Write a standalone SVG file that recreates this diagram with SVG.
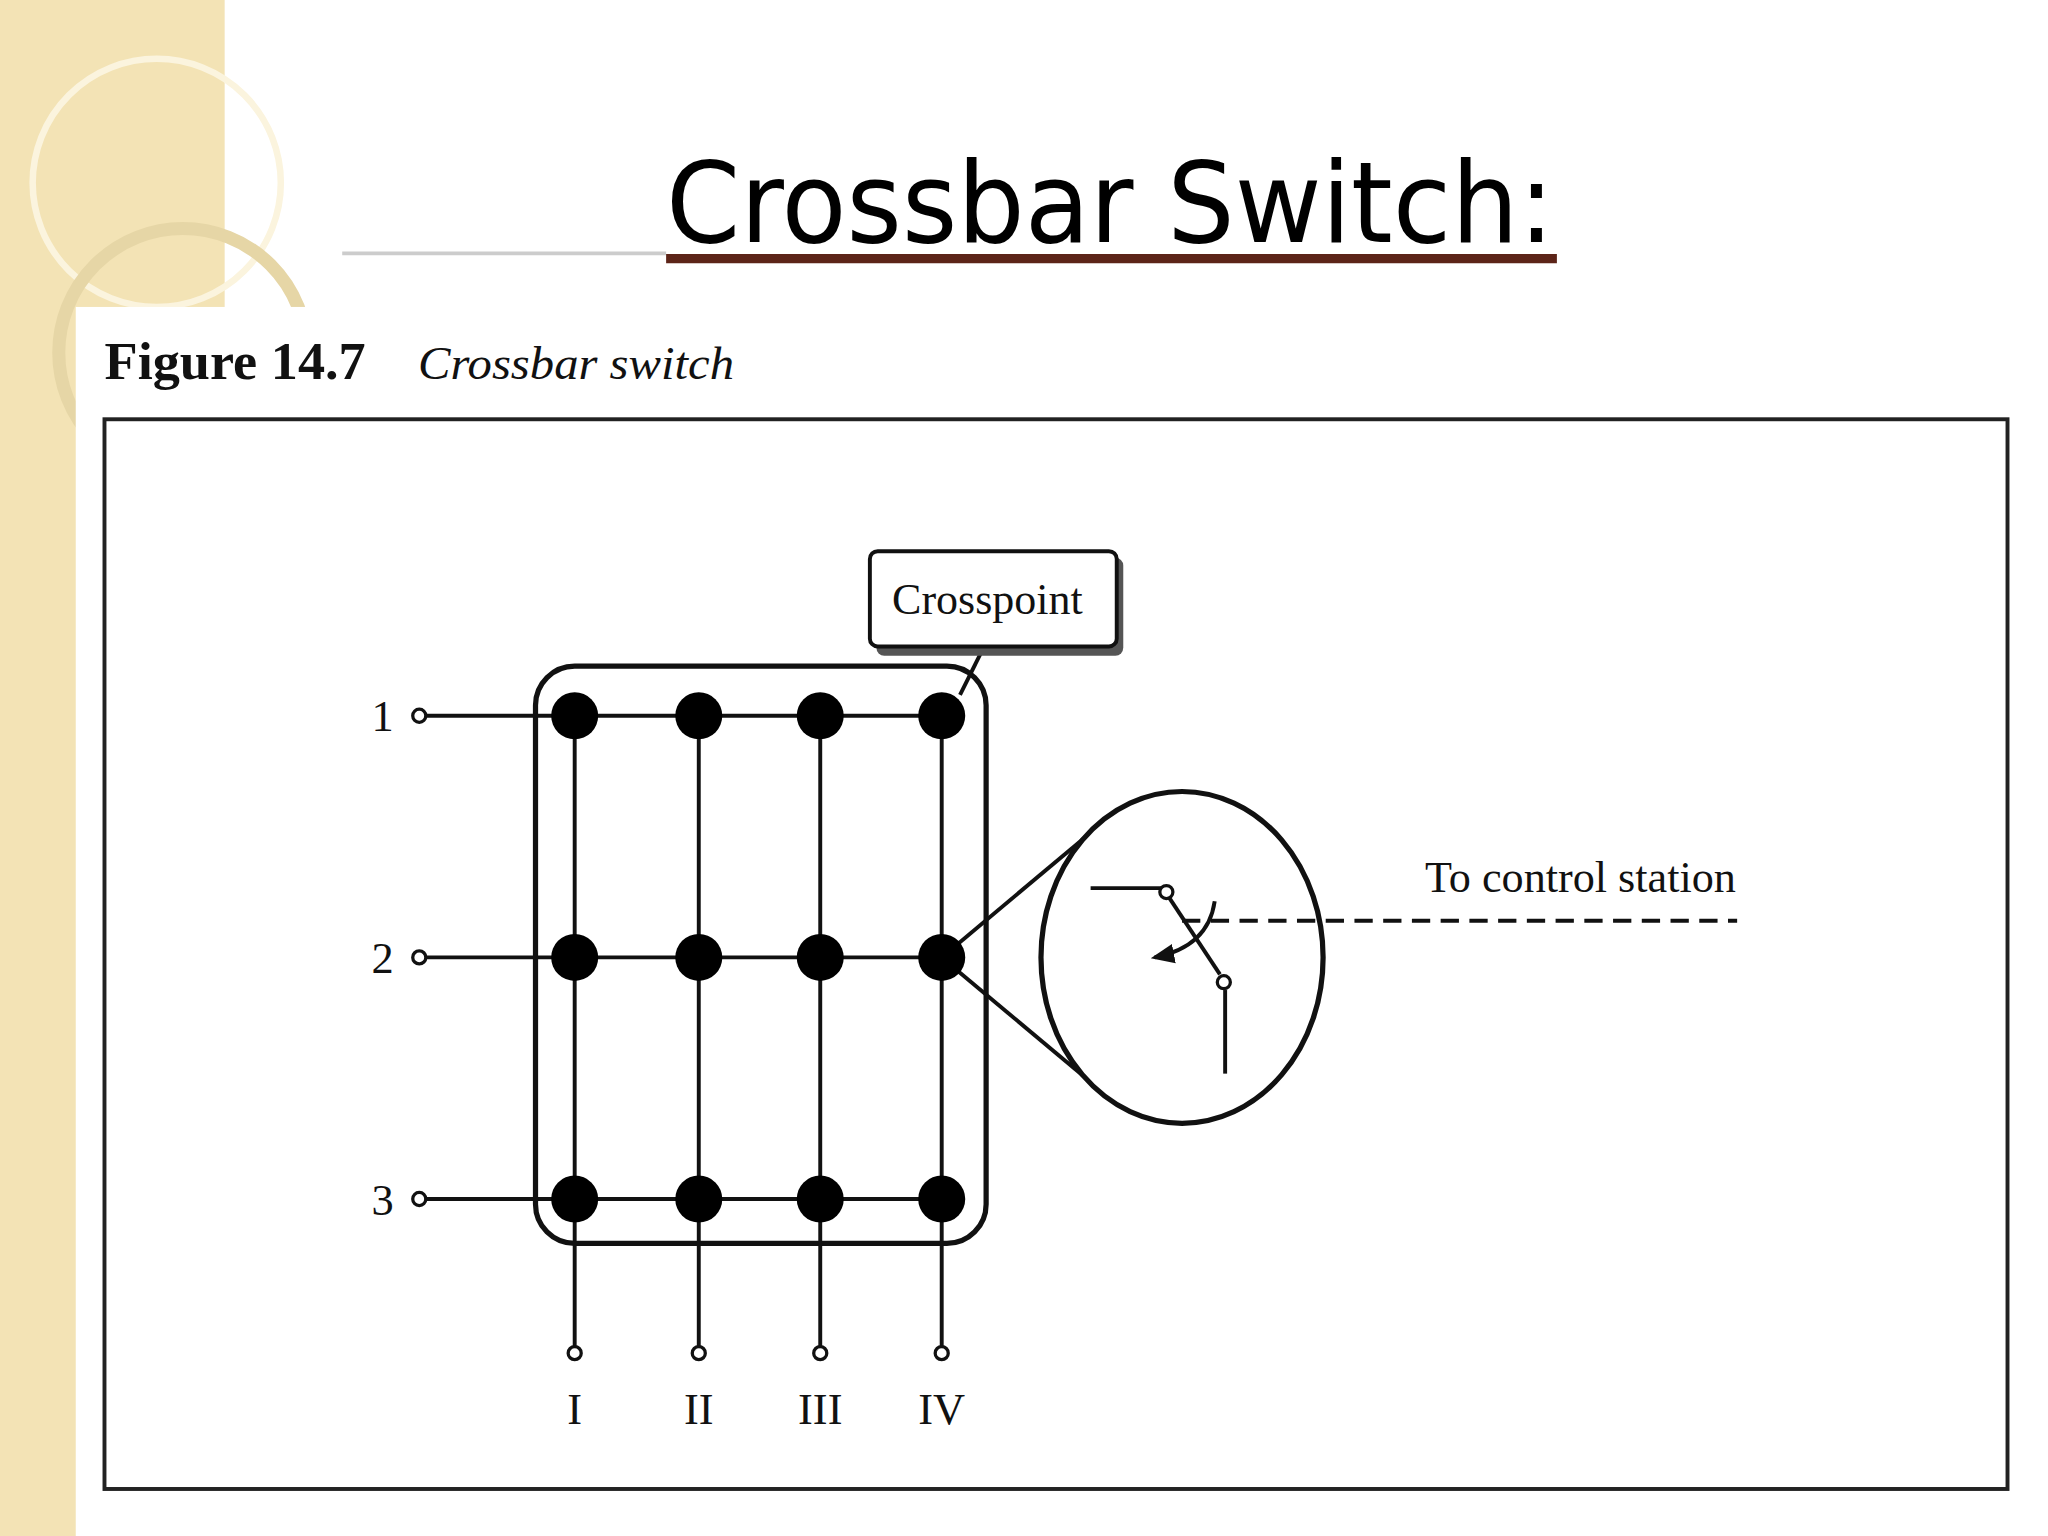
<svg xmlns="http://www.w3.org/2000/svg" width="2048" height="1536" viewBox="0 0 2048 1536">
<style>
.w{stroke:#111;stroke-width:3;fill:none}
.d{fill:#000}
.o{fill:#fff;stroke:#111;stroke-width:2.5}
.s{font-family:"Liberation Serif",serif;fill:#111}
</style>
<defs><marker id="ah" markerWidth="6" markerHeight="6" refX="5" refY="3" orient="auto"><path d="M0,0.5 L6,3 L0,5.5 Z" fill="#111"/></marker></defs>
<g transform="scale(1.30612)">
<rect width="1568" height="1176" fill="#fff"/>
<g id="decor">
<rect x="0" y="0" width="172" height="1176" fill="#f3e3b5"/>
<circle cx="120" cy="140" r="95" fill="none" stroke="#fbf4de" stroke-width="5"/>
<circle cx="140" cy="270" r="95" fill="none" stroke="#e6d6a6" stroke-width="10"/>
<line x1="262" y1="194" x2="510" y2="194" stroke="#ccc" stroke-width="3"/>
</g>
<g id="title">
<text x="510" y="185" font-family="'DejaVu Sans',sans-serif" font-size="86" textLength="680" lengthAdjust="spacingAndGlyphs" fill="#000">Crossbar Switch:</text>
<line x1="510" y1="198" x2="1192" y2="198" stroke="#5c2418" stroke-width="7"/>
</g>
<rect x="58" y="235" width="1510" height="941" fill="#fff"/>
<g id="caption">
<text x="80" y="290" class="s" font-size="40" font-weight="bold" textLength="200" lengthAdjust="spacingAndGlyphs">Figure 14.7</text>
<text x="320" y="290" class="s" font-size="36" font-style="italic" textLength="242" lengthAdjust="spacingAndGlyphs">Crossbar switch</text>
</g>
<rect x="80" y="321" width="1457" height="819" fill="none" stroke="#222" stroke-width="3"/>
<g id="connectors">
<line class="w" x1="326" y1="548" x2="721" y2="548"/>
<line class="w" x1="326" y1="733" x2="721" y2="733"/>
<line class="w" x1="326" y1="918" x2="721" y2="918"/>
<line class="w" x1="440" y1="548" x2="440" y2="1031"/>
<line class="w" x1="535" y1="548" x2="535" y2="1031"/>
<line class="w" x1="628" y1="548" x2="628" y2="1031"/>
<line class="w" x1="721" y1="548" x2="721" y2="1031"/>
<rect x="410" y="510" width="345" height="442" rx="30" fill="none" stroke="#111" stroke-width="4"/>
<line class="w" x1="735" y1="532" x2="752" y2="498"/>
<line class="w" x1="721" y1="733" x2="832" y2="640"/>
<line class="w" x1="721" y1="733" x2="832" y2="826"/>
</g>
<g id="terminals">
<circle class="o" cx="321" cy="548" r="5"/><circle class="o" cx="321" cy="733" r="5"/><circle class="o" cx="321" cy="918" r="5"/>
<circle class="o" cx="440" cy="1036" r="5"/><circle class="o" cx="535" cy="1036" r="5"/><circle class="o" cx="628" cy="1036" r="5"/><circle class="o" cx="721" cy="1036" r="5"/>
<g class="s" font-size="34" text-anchor="middle">
<text x="293" y="560">1</text><text x="293" y="745">2</text><text x="293" y="930">3</text>
<text x="440" y="1090">I</text><text x="535" y="1090">II</text><text x="628" y="1090">III</text><text x="721" y="1090">IV</text>
</g>
</g>
<g id="crosspoints">
<circle class="d" cx="440" cy="548" r="18"/><circle class="d" cx="535" cy="548" r="18"/><circle class="d" cx="628" cy="548" r="18"/><circle class="d" cx="721" cy="548" r="18"/>
<circle class="d" cx="440" cy="733" r="18"/><circle class="d" cx="535" cy="733" r="18"/><circle class="d" cx="628" cy="733" r="18"/><circle class="d" cx="721" cy="733" r="18"/>
<circle class="d" cx="440" cy="918" r="18"/><circle class="d" cx="535" cy="918" r="18"/><circle class="d" cx="628" cy="918" r="18"/><circle class="d" cx="721" cy="918" r="18"/>
</g>
<g id="crosspoint-label">
<rect x="671" y="427" width="189" height="75" rx="6" fill="#555"/>
<rect x="666" y="422" width="189" height="73" rx="6" fill="#fff" stroke="#111" stroke-width="3"/>
<text x="756" y="470" class="s" font-size="34" text-anchor="middle" textLength="146" lengthAdjust="spacingAndGlyphs">Crosspoint</text>
</g>
<g id="detail">
<ellipse cx="905" cy="733" rx="108" ry="127" fill="#fff" stroke="#111" stroke-width="4"/>
<line x1="905" y1="705" x2="1330" y2="705" stroke="#111" stroke-width="3" stroke-dasharray="14,8"/>
<line class="w" x1="835" y1="680" x2="889" y2="680" stroke-width="4"/>
<line class="w" x1="895" y1="687" x2="934" y2="746" stroke-width="4"/>
<line class="w" x1="938" y1="758" x2="938" y2="822" stroke-width="4"/>
<circle class="o" cx="893" cy="683" r="5"/><circle class="o" cx="937" cy="752" r="5"/>
<path d="M930,690 Q925,725 884,733" class="w" stroke-width="2.5" marker-end="url(#ah)"/>
</g>
<text x="1210" y="683" class="s" font-size="34" text-anchor="middle" textLength="238" lengthAdjust="spacingAndGlyphs">To control station</text>
</g>
</svg>
